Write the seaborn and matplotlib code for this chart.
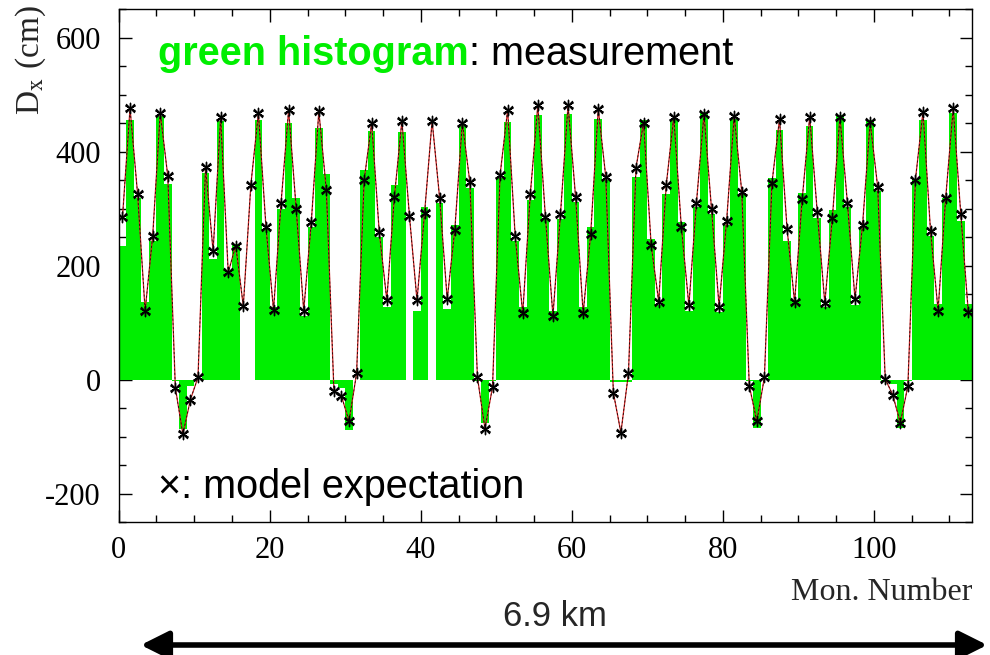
import numpy as np
import pandas as pd
import matplotlib
matplotlib.use("Agg")
import matplotlib.pyplot as plt
from matplotlib.patches import FancyArrowPatch
from matplotlib.ticker import MultipleLocator
import seaborn as sns

# monitor numbers (bin index) and dispersion values in cm
monitor = list(range(113))

measured = [234, 455, 318, 137, 244, 462, 344, -3, -87, -12,
            0, 363, 212, 454, 191, 238, 0, 0, 455, 265,
            128, 300, 450, 319, 112, 268, 441, 360, -8, -15,
            -88, 0, 367, 437, 250, 127, 341, 435, 0, 121,
            303, 0, 309, 124, 271, 447, 337, -3, -76, -3,
            353, 452, 244, 127, 315, 464, 282, 121, 282, 466,
            312, 127, 268, 458, 350, -4, -4, -4, 356, 455,
            247, 130, 326, 457, 276, 121, 303, 470, 291, 118,
            271, 458, 326, -3, -85, 0, 354, 438, 243, 139,
            328, 445, 283, 127, 297, 464, 303, 130, 268, 455,
            331, -5, -8, -85, -3, 351, 455, 252, 133, 318,
            468, 278, 133]

model = [285, 476, 326, 121, 252, 468, 357, -14, -96, -35,
         4, 373, 225, 460, 188, 235, 129, 342, 468, 268,
         122, 310, 473, 300, 121, 276, 471, 332, -20, -29,
         -73, 11, 350, 450, 259, 140, 320, 454, 287, 139,
         292, 454, 318, 141, 262, 451, 346, 4, -86, -13,
         359, 473, 252, 116, 325, 482, 286, 112, 291, 482,
         320, 116, 256, 475, 355, -23, -93, 11, 372, 451,
         237, 137, 341, 461, 268, 130, 310, 466, 299, 128,
         279, 463, 330, -11, -73, 4, 345, 457, 265, 136,
         316, 461, 294, 134, 284, 461, 309, 141, 272, 452,
         338, 1, -27, -76, -11, 351, 470, 260, 121, 318,
         476, 291, 118]

df = pd.DataFrame({"mon": np.array(monitor) + 0.5, "meas": measured, "model": model})

sns.set_style("ticks")
plt.rcParams["font.family"] = ["Liberation Serif", "DejaVu Serif"]
plt.rcParams["mathtext.fontset"] = "stix"

GREEN = "#00ee00"

fig = plt.figure(figsize=(9.9, 6.55), dpi=100)
ax = fig.add_axes([0.1199, 0.203, 0.862, 0.783])

# measured dispersion as a filled histogram
sns.histplot(data=df, x="mon", weights="meas", bins=113, binrange=(0, 113),
             element="bars", fill=True, color=GREEN, alpha=1.0,
             linewidth=0, ax=ax)

# model expectation: thin red line + asterisks
ax.plot(df["mon"], df["model"], color="#cc2222", lw=0.9, zorder=3)
ax.plot(df["mon"], df["model"], color="black", lw=0.5, ls=(0, (3, 3)), zorder=3)
sns.scatterplot(data=df, x="mon", y="model", marker=(6, 2, 0), s=55,
                color="black", linewidth=1.0, ax=ax, zorder=4)
sns.scatterplot(data=df, x="mon", y="model", marker="x", s=40,
                color="black", linewidth=1.0, ax=ax, zorder=4)

ax.set_xlim(0, 113)
ax.set_ylim(-250, 650)
ax.xaxis.set_major_locator(MultipleLocator(20))
ax.xaxis.set_minor_locator(MultipleLocator(5))
ax.yaxis.set_major_locator(MultipleLocator(200))
ax.yaxis.set_minor_locator(MultipleLocator(50))
ax.tick_params(which="both", direction="in", top=True, right=True,
               colors="black", width=1)
ax.tick_params(which="major", length=9, labelsize=22)
ax.tick_params(axis="x", which="major", pad=10)
ax.tick_params(axis="y", which="major", pad=13)
ax.tick_params(which="minor", length=5)
for s in ax.spines.values():
    s.set_color("black")
    s.set_linewidth(1.0)
ax.set_xlabel("")
ax.set_ylabel("")
ax.set_yticks([-200, 0, 200, 400, 600])
ax.set_yticklabels(["-200", "0", "200", "400", "600"])

# labels in the style of the original slide
fig.text(31 / 990, 1 - 60 / 655, r"D$_{\rm x}$ (cm)", rotation=90,
         ha="center", va="center", fontsize=24)
fig.text(972 / 990, 1 - 593 / 655, "Mon. Number", ha="right", va="center",
         fontsize=23)

sans = ["Liberation Sans", "DejaVu Sans"]
t1 = fig.text(158 / 990, 1 - 65 / 655, "green histogram",
              color=GREEN, fontsize=28.5, fontweight="bold", family=sans,
              ha="left", va="baseline")
fig.canvas.draw()
bb = t1.get_window_extent()
fig.text(bb.x1 / fig.bbox.width, 1 - 65 / 655, ": measurement", color="black",
         fontsize=28.5, family=sans, ha="left", va="baseline")
fig.text(158 / 990, 1 - 487 / 655, "×: model expectation",
         color="black", fontsize=28.5, family=sans, ha="left", va="center")

fig.text(555 / 990, 1 - 617 / 655, "6.9 km", ha="center", va="center",
         fontsize=25, family=sans)
arrow = FancyArrowPatch((138 / 990, 1 - 645 / 655), (990 / 990, 1 - 645 / 655),
                        transform=fig.transFigure,
                        arrowstyle="<|-|>,head_length=1.4,head_width=0.7",
                        lw=4, color="black", mutation_scale=12)
fig.add_artist(arrow)

fig.savefig("out.png", dpi=100)
